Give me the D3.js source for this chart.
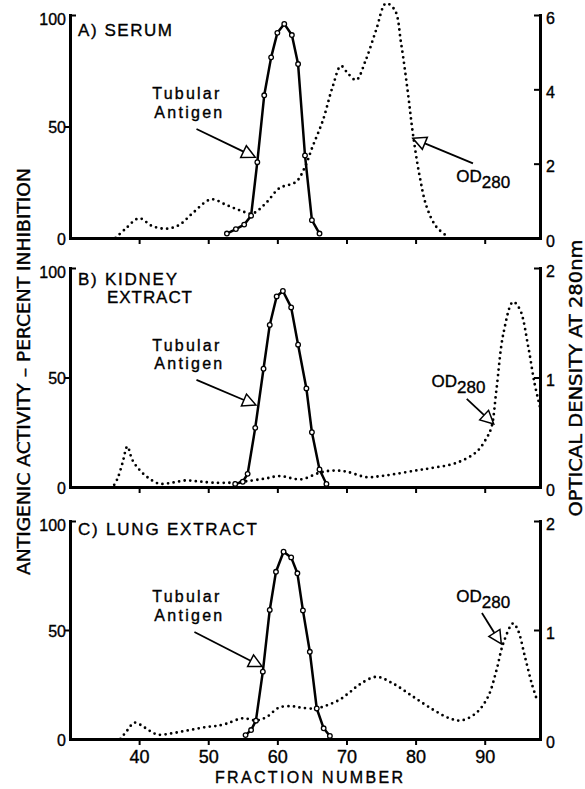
<!DOCTYPE html>
<html>
<head>
<meta charset="utf-8">
<script src="https://cdn.jsdelivr.net/npm/d3@7"></script>
<style>
  html, body { margin: 0; padding: 0; background: #fff; }
  svg { display: block; font-family: "Liberation Sans", Arial, sans-serif; }
  svg text { fill: #000; stroke: #000; stroke-width: 0.35px; }
</style>
</head>
<body>
<svg id="chart" width="585" height="789"></svg>
<script>
// axis ticks
const fractionTicks = [40, 50, 60, 70, 80, 90];
const pctTicks = [0, 50, 100];

// A) serum
const serumTubFrac = [52.7, 54.0, 55.2, 56.2, 57.1, 58.1, 59.1, 60.0, 61.0, 62.1, 63.0, 64.0, 65.0, 66.1];
const serumTubPct = [2, 4, 6, 10, 34, 64, 81, 92, 96, 91, 78, 37, 8, 2];
const serumOdFrac = [36.6, 38.1, 40.0, 41.9, 43.9, 45.8, 47.7, 50.4, 52.6, 54.5, 56.4, 58.3, 60.3, 62.7, 63.9, 65.1, 66.6, 68.0, 69.2, 70.2, 71.4, 72.8, 74.3, 75.7, 77.0, 77.9, 78.9, 79.6, 80.6, 81.6, 83.0, 84.7];
const serumOd = [0, 0.26, 0.53, 0.32, 0.25, 0.35, 0.66, 1.04, 0.89, 0.75, 0.66, 0.93, 1.34, 1.51, 1.87, 2.46, 3.17, 4.07, 4.63, 4.43, 4.25, 4.79, 5.60, 6.31, 6.13, 5.24, 3.89, 2.82, 1.65, 0.84, 0.30, 0.03];

// B) kidney extract
const kidneyTubFrac = [53.9, 55.0, 55.7, 56.8, 58.0, 58.9, 59.9, 60.8, 62.0, 63.0, 64.2, 65.0, 66.1, 67.1];
const kidneyTubPct = [1.4, 2.4, 6, 27, 54, 74, 87, 89.5, 82, 65, 45, 25, 8, 1.4];
const kidneyOdFrac = [36.4, 36.9, 37.6, 38.3, 39.0, 40.0, 41.4, 42.9, 44.8, 46.8, 48.7, 50.6, 53.5, 56.4, 58.5, 60.3, 63.4, 66.1, 68.0, 70.0, 72.9, 75.0, 77.2, 80.0, 82.0, 85.9, 88.8, 90.3, 91.0, 91.7, 92.7, 94.1, 95.1, 96.3, 97.2, 98.0];
const kidneyOd = [0.02, 0.08, 0.22, 0.37, 0.25, 0.16, 0.08, 0.03, 0.04, 0.06, 0.05, 0.04, 0.04, 0.06, 0.08, 0.10, 0.07, 0.13, 0.15, 0.14, 0.09, 0.10, 0.12, 0.15, 0.17, 0.22, 0.32, 0.45, 0.55, 0.89, 1.40, 1.69, 1.62, 1.28, 0.95, 0.73];

// C) lung extract
const lungTubFrac = [55.4, 56.2, 56.9, 57.9, 58.9, 59.8, 60.9, 62.0, 62.9, 63.7, 64.7, 65.7, 66.7, 67.6];
const lungTubPct = [1.8, 4.1, 8.4, 30.9, 59.2, 76.7, 85.9, 83.3, 76, 59, 40, 14, 4.9, 1.4];
const lungOdFrac = [37.3, 38.3, 39.3, 40.2, 41.4, 42.7, 44.5, 46.3, 48.0, 49.7, 51.2, 52.6, 55.0, 56.9, 58.4, 60.3, 62.2, 63.2, 65.6, 67.2, 69.0, 70.5, 71.9, 74.3, 76.7, 79.6, 82.5, 84.9, 86.6, 88.8, 90.5, 91.7, 92.7, 94.1, 94.8, 95.8, 96.8, 97.5];
const lungOd = [0, 0.08, 0.15, 0.13, 0.08, 0.04, 0.05, 0.07, 0.09, 0.11, 0.12, 0.14, 0.19, 0.17, 0.20, 0.29, 0.30, 0.29, 0.28, 0.31, 0.36, 0.43, 0.50, 0.57, 0.51, 0.39, 0.27, 0.19, 0.17, 0.24, 0.39, 0.63, 0.88, 1.06, 1.0, 0.76, 0.51, 0.37];

// annotation anchors, in data units (fraction, percent)
const serumNotes = { tubText: [41.9, 62.3, 53.8], tubArrow: [48.3, 48.9, 56.8, 36.2], odText: [85.9, 25.1], odArrow: [88.3, 33.5, 79.6, 44.7] };
const kidneyNotes = { tubText: [41.9, 62.3, 53.9], tubArrow: [48.3, 48.9, 56.9, 37.4], odText: [82.3, 45.7], odArrow: [87.4, 40.2, 91.3, 28.8] };
const lungNotes = { tubText: [41.9, 63.0, 54.2], tubArrow: [48.0, 49.1, 57.8, 33.2], odText: [85.9, 62.8], odArrow: [89.6, 57.8, 92.4, 43.6] };

const panels = [
  { name: ["A) SERUM"], nameW: [94], nameX: [78], top: 15, bottom: 238, nameY: [36],
    tubF: serumTubFrac, tubV: serumTubPct, odF: serumOdFrac, odV: serumOd, odTicks: [0, 2, 4, 6], notes: serumNotes },
  { name: ["B) KIDNEY", "EXTRACT"], nameW: [99, 85], nameX: [78, 107], top: 268, bottom: 487, nameY: [285, 303],
    tubF: kidneyTubFrac, tubV: kidneyTubPct, odF: kidneyOdFrac, odV: kidneyOd, odTicks: [0, 1, 2], notes: kidneyNotes },
  { name: ["C) LUNG EXTRACT"], nameW: [179], nameX: [78], top: 521, bottom: 739, nameY: [535],
    tubF: lungTubFrac, tubV: lungTubPct, odF: lungOdFrac, odV: lungOd, odTicks: [0, 1, 2], notes: lungNotes }
];

const svg = d3.select("#chart");
const x = d3.scaleLinear().domain([30, 98]).range([70, 540]);

function arrow(g, x1, y1, x2, y2) {
  const len = Math.hypot(x2 - x1, y2 - y1);
  const ux = (x2 - x1) / len, uy = (y2 - y1) / len;
  const L = 13, hw = 6.5;
  const bx = x2 - ux * L, by = y2 - uy * L;
  g.append("line")
    .attr("x1", x1).attr("y1", y1).attr("x2", bx).attr("y2", by)
    .attr("stroke", "#000").attr("stroke-width", 1.8);
  g.append("path")
    .attr("d", `M${x2},${y2}L${bx - uy * hw},${by + ux * hw}L${bx + uy * hw},${by - ux * hw}Z`)
    .attr("fill", "#fff").attr("stroke", "#000").attr("stroke-width", 1.5);
}

panels.forEach((p, i) => {
  const g = svg.append("g");
  const y = d3.scaleLinear().domain([0, 100]).range([p.bottom, p.top]);
  const yOd = d3.scaleLinear().domain([0, d3.max(p.odTicks)]).range([p.bottom, p.top]);

  // OD280 dotted curve
  const odPts = p.odF.map((f, k) => [x(f), yOd(p.odV[k])]);
  g.append("path")
    .attr("d", d3.line().curve(d3.curveCatmullRom.alpha(0.5))(odPts))
    .attr("fill", "none").attr("stroke", "#000")
    .attr("stroke-width", 2.8).attr("stroke-linecap", "round")
    .attr("stroke-dasharray", "0 5.6");

  // tubular antigen
  const tubPts = p.tubF.map((f, k) => [x(f), y(p.tubV[k])]);
  g.append("path")
    .attr("d", d3.line()(tubPts))
    .attr("fill", "none").attr("stroke", "#000").attr("stroke-width", 2.5)
    .attr("stroke-linejoin", "round");
  g.selectAll("circle.pt").data(tubPts).join("circle")
    .attr("cx", d => d[0]).attr("cy", d => d[1]).attr("r", 2.3)
    .attr("fill", "#fff").attr("stroke", "#000").attr("stroke-width", 1.3);

  // axes
  const left = g.append("g").attr("transform", "translate(70,0)")
    .call(d3.axisLeft(y).tickValues(pctTicks).tickSize(5).tickSizeOuter(0).tickPadding(0));
  const right = g.append("g").attr("transform", "translate(540,0)")
    .call(d3.axisRight(yOd).tickValues(p.odTicks).tickSize(-6).tickSizeOuter(0).tickPadding(6)
      .tickFormat(d3.format("d")));
  const bottom = g.append("g").attr("transform", `translate(0,${p.bottom})`)
    .call(d3.axisBottom(x).tickValues(fractionTicks).tickSize(6).tickSizeOuter(0).tickPadding(5)
      .tickFormat(i === 2 ? d3.format("d") : () => ""));

  [left, right, bottom].forEach(a => {
    a.select(".domain").attr("stroke-width", 3).attr("stroke-linecap", "square");
    a.selectAll(".tick line").attr("stroke-width", 2);
    a.selectAll("text").attr("font-family", "'Liberation Sans', Arial, sans-serif");
  });
  left.selectAll(".tick text").attr("font-size", 16).attr("x", -4)
    .attr("dy", d => d === 100 ? "0.6em" : "0.38em");
  left.selectAll(".tick line").attr("x2", d => d === 100 ? 6 : (d === 0 ? 0 : -5));
  right.selectAll(".tick text").attr("font-size", 16).attr("dy", "0.5em");
  right.selectAll(".tick line").attr("x2", d => d === 0 ? 0 : -6);
  bottom.selectAll(".tick text").attr("font-size", 18);

  // panel title
  p.name.forEach((t, k) => {
    g.append("text").attr("x", p.nameX[k]).attr("y", p.nameY[k])
      .attr("font-size", 17).attr("textLength", p.nameW[k]).attr("lengthAdjust", "spacing")
      .text(t);
  });

  // annotations
  const n = p.notes;
  ["Tubular", "Antigen"].forEach((t, k) => {
    g.append("text").attr("x", x(n.tubText[0]) + (k ? 2 : 0)).attr("y", y(n.tubText[k + 1]))
      .attr("font-size", 16).attr("textLength", k ? 68 : 67).attr("lengthAdjust", "spacing")
      .text(t);
  });
  arrow(g, x(n.tubArrow[0]), y(n.tubArrow[1]), x(n.tubArrow[2]), y(n.tubArrow[3]));

  const od = g.append("text").attr("x", x(n.odText[0])).attr("y", y(n.odText[1])).attr("font-size", 17);
  od.append("tspan").text("OD");
  od.append("tspan").attr("dy", 6).text("280");
  arrow(g, x(n.odArrow[0]), y(n.odArrow[1]), x(n.odArrow[2]), y(n.odArrow[3]));
});

// axis titles
svg.append("text")
  .attr("transform", "translate(30,371.5) rotate(-90)")
  .attr("text-anchor", "middle").attr("font-size", 17)
  .attr("font-family", "'Liberation Sans Narrow', 'DejaVu Sans Condensed', sans-serif")
  .attr("textLength", 407).attr("lengthAdjust", "spacingAndGlyphs")
  .text("ANTIGENIC ACTIVITY – PERCENT INHIBITION");

svg.append("text")
  .attr("transform", "translate(582,378) rotate(-90)")
  .attr("text-anchor", "middle").attr("font-size", 17)
  .attr("font-family", "'Liberation Sans Narrow', 'DejaVu Sans Condensed', sans-serif")
  .attr("textLength", 277).attr("lengthAdjust", "spacingAndGlyphs")
  .text("OPTICAL DENSITY AT 280nm");

svg.append("text")
  .attr("x", 309).attr("y", 783).attr("text-anchor", "middle").attr("font-size", 16)
  .attr("textLength", 188).attr("lengthAdjust", "spacing")
  .text("FRACTION NUMBER");
</script>
</body>
</html>
